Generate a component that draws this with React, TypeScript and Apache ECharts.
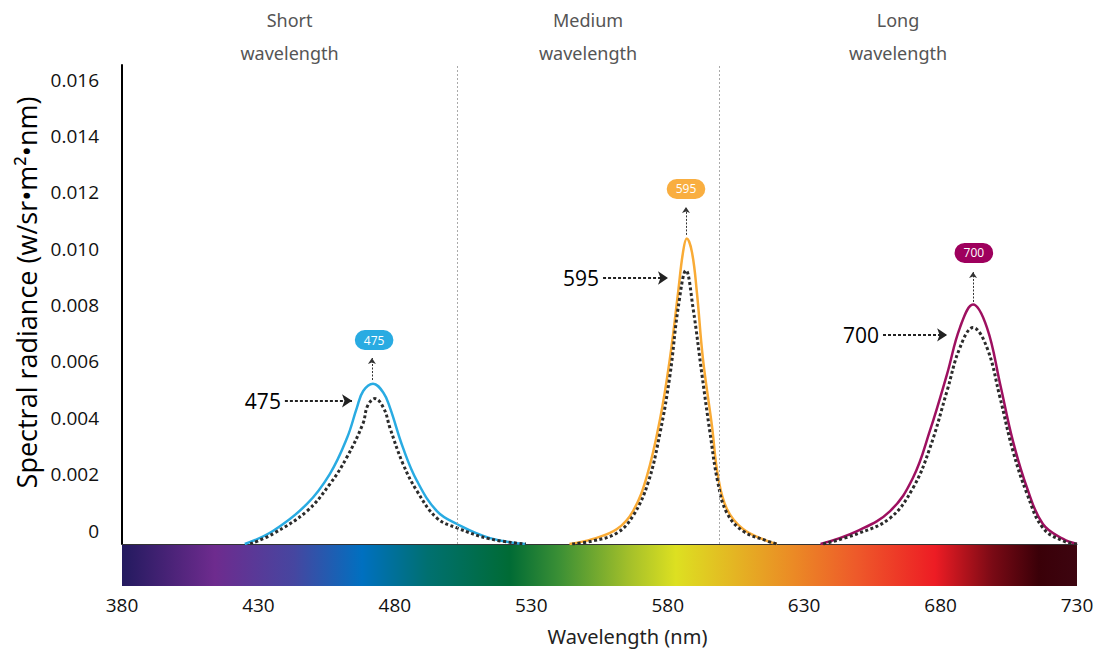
import React, { useEffect, useRef } from "react";
import * as echarts from "echarts";

// ---- data ----
const bandNames = ["Short\nwavelength", "Medium\nwavelength", "Long\nwavelength"];
const bandEdges = [380, 502.8, 598.8, 730];
const peakLabels = ["475", "595", "700"];
const lineColors = ["#29abe2", "#f9ab36", "#9e1060"];
const bubbleColors = ["#29abe2", "#f9ae40", "#9e005d"];

const shortSolid = [
  [425, 0], [435.3, 0.00046], [447.8, 0.00142], [456.2, 0.00249], [462.5, 0.00377],
  [466.1, 0.00484], [468.4, 0.00543], [472, 0.00569], [475.8, 0.00537], [478.2, 0.00484],
  [483, 0.00341], [488.1, 0.00224], [495.4, 0.00117], [502.8, 0.00071], [514.9, 0.00021], [528, 0],
];
const shortRef = [
  [427, 0], [435.3, 0.00036], [447.8, 0.00117], [456.2, 0.00213], [462.3, 0.00306],
  [468.3, 0.00427], [470, 0.0049], [472.7, 0.00516], [476, 0.0048], [478.2, 0.00412],
  [483, 0.00284], [488.1, 0.00188], [495.4, 0.00092], [502.8, 0.00057], [514.9, 0.00018], [528, 0],
];
const mediumSolid = [
  [544, 0], [552.6, 0.00018], [561.4, 0.00053], [567.3, 0.00117], [572.4, 0.00242],
  [577.2, 0.00444], [580.8, 0.00658], [583.8, 0.00892], [585.6, 0.01035], [587, 0.01084],
  [588.9, 0.01035], [590.7, 0.00892], [592.9, 0.00658], [596.2, 0.0042], [598.4, 0.00242],
  [601.7, 0.00124], [607.6, 0.00053], [616.4, 0.00011], [620, 0],
];
const mediumRef = [
  [545, 0], [552.6, 0.00011], [561.4, 0.00039], [567.3, 0.001], [572.8, 0.00217],
  [577.2, 0.00395], [580.8, 0.00597], [583.8, 0.00836], [586.7, 0.00971], [589.3, 0.00836],
  [592.6, 0.00597], [595.5, 0.00395], [598.4, 0.00217], [601.7, 0.0011], [607.6, 0.00046],
  [616.4, 0.00011], [620, 0],
];
const longSolid = [
  [636, 0], [649.4, 0.00046], [661.5, 0.00117], [669.9, 0.00235], [676.1, 0.00402],
  [682.4, 0.00604], [687.1, 0.00768], [691.9, 0.0085], [697, 0.00768], [701.8, 0.00569],
  [706.5, 0.00366], [711.7, 0.00199], [717.5, 0.00071], [724.9, 0.00018], [730, 0],
];
const longRef = [
  [637, 0], [649.4, 0.00036], [661.5, 0.00092], [669.9, 0.00199], [676.1, 0.00341],
  [682.4, 0.00544], [687.1, 0.00697], [691.9, 0.00768], [697, 0.00697], [701.8, 0.00519],
  [706.5, 0.00331], [711.7, 0.00178], [717.5, 0.00057], [724.9, 0.00011], [730, 0],
];

// annotation arrows (data coordinates): [fromNm, toNm, value]
const sideArrows = [
  [439.7, 464.3, 0.00508],
  [556.3, 580.1, 0.00944],
  [658.9, 682.4, 0.00742],
];
// upward arrows: [nm, fromValue, toValue]
const upArrows = [
  [471.6, 0.00582, 0.0066],
  [586.7, 0.01097, 0.01196],
  [691.9, 0.00859, 0.00965],
];
// bubble positions: [nm, value]
const bubbles = [
  [472.4, 0.00724],
  [586.7, 0.0126],
  [692.2, 0.01033],
];

// visible spectrum colour bar: [nm, colour]
const spectrumStops: [number, string][] = [
  [380, "#231a5f"], [414, "#6e2b8e"], [443, "#4646a0"], [468, "#0070c0"],
  [492, "#007070"], [522, "#006b35"], [540, "#3a8f35"], [566, "#a4c02a"],
  [583, "#dde021"], [626, "#eb8a25"], [649, "#ee5a2a"], [678, "#ed1c24"],
  [699, "#7a0a15"], [716, "#3a0008"], [730, "#3d0510"],
];

const xMin = 380;
const xMax = 730;
const xStep = 50;
const yMax = 0.017;
const yStep = 0.002;

export default function App() {
  const ref = useRef<HTMLDivElement>(null);

  useEffect(() => {
    if (!ref.current) return;
    const chart = echarts.init(ref.current, null, { renderer: "svg" });

    const solids = [shortSolid, mediumSolid, longSolid];
    const refs = [shortRef, mediumRef, longRef];
    const names = ["Short", "Medium", "Long"];
    const series: any[] = [];

    solids.forEach((d, i) => {
      const [a, b, v] = sideArrows[i];
      const [bx, by] = bubbles[i];
      series.push({
        name: names[i],
        type: "line",
        data: d,
        smooth: 0.4,
        symbol: "none",
        z: 2,
        lineStyle: { color: lineColors[i], width: 2.5 },
        markLine: {
          silent: true,
          symbol: ["none", "arrow"],
          symbolSize: 10,
          lineStyle: { color: "#222", width: 1.8, type: [3, 2] },
          label: {
            show: true,
            position: "start",
            formatter: peakLabels[i],
            fontSize: 21,
            color: "#000",
            fontFamily: "Open Sans",
            distance: 4,
          },
          data: [[{ coord: [a, v] }, { coord: [b, v] }]],
        },
        markPoint: {
          silent: true,
          symbol: "circle",
          symbolSize: 1,
          itemStyle: { color: "rgba(0,0,0,0)" },
          label: {
            show: true,
            position: "inside",
            formatter: peakLabels[i],
            color: "#fff",
            fontSize: 12,
            lineHeight: 14,
            fontFamily: "Open Sans",
            backgroundColor: bubbleColors[i],
            borderRadius: 10,
            padding: [3, 9, 3, 9],
          },
          data: [{ coord: [bx, by] }],
        },
      });
    });

    refs.forEach((d, i) => {
      const [ux, u0, u1] = upArrows[i];
      series.push({
        name: names[i] + " reference",
        type: "line",
        data: d,
        smooth: 0.4,
        symbol: "none",
        z: 3,
        lineStyle: { color: "#2b2b2b", width: 3, type: [3, 2.5] },
        markLine: {
          silent: true,
          symbol: ["none", "arrow"],
          symbolSize: 6,
          lineStyle: { color: "#333", width: 1, type: [2, 1.5] },
          label: { show: false },
          data: [[{ coord: [ux, u0] }, { coord: [ux, u1] }]],
        },
      });
    });

    // band dividers + headers
    series.push({
      name: "bands",
      type: "line",
      data: [],
      markLine: {
        silent: true,
        symbol: ["none", "none"],
        lineStyle: { color: "#aaa", width: 1, type: [2, 2] },
        label: { show: false },
        data: [{ xAxis: bandEdges[1] }, { xAxis: bandEdges[2] }],
      },
      markArea: {
        silent: true,
        itemStyle: { color: "rgba(0,0,0,0)" },
        label: {
          show: true,
          position: "top",
          distance: -4,
          color: "#555",
          fontSize: 18,
          lineHeight: 33,
          fontFamily: "Noto Sans",
          align: "center",
        },
        data: bandNames.map((n, i) => [
          { name: n, xAxis: bandEdges[i] },
          { xAxis: bandEdges[i + 1] },
        ]),
      },
    });

    const gridLeft = 122;
    const gridRight = 30;
    const gridTop = 65;
    const gridBottom = 107;
    const W = 1107;
    const H = 651;

    chart.setOption({
      animation: false,
      backgroundColor: "#fff",
      grid: { left: gridLeft, right: gridRight, top: gridTop, bottom: gridBottom },
      xAxis: {
        type: "value",
        min: xMin,
        max: xMax,
        interval: xStep,
        axisLine: { show: true, lineStyle: { color: "#333", width: 1 } },
        axisTick: { show: false },
        splitLine: { show: false },
        axisLabel: { margin: 51, fontSize: 19, color: "#111", fontFamily: "Open Sans" },
        name: "Wavelength (nm)",
        nameLocation: "middle",
        nameGap: 82,
        nameTextStyle: {
          fontSize: 20,
          color: "#222",
          fontFamily: "Noto Sans",
          padding: [0, 0, 0, 56],
        },
      },
      yAxis: {
        type: "value",
        min: 0,
        max: yMax,
        interval: yStep,
        axisLine: { show: true, lineStyle: { color: "#000", width: 2 } },
        axisTick: { show: false },
        splitLine: { show: false },
        axisLabel: {
          showMaxLabel: false,
          margin: 23,
          fontSize: 19,
          color: "#111",
          fontFamily: "Open Sans",
          verticalAlign: "bottom",
          padding: [0, 0, 4, 0],
          formatter: (v: number) => (v === 0 ? "0" : v.toFixed(3)),
        },
        name: "Spectral radiance (w/sr•m²•nm)",
        nameLocation: "middle",
        nameRotate: 90,
        nameGap: 80,
        nameTextStyle: {
          fontSize: 27,
          color: "#000",
          fontFamily: "Open Sans",
          padding: [0, 0, 0, 24],
        },
      },
      graphic: [
        {
          type: "rect",
          z: 0,
          shape: {
            x: gridLeft,
            y: H - gridBottom,
            width: W - gridLeft - gridRight,
            height: 42,
          },
          style: {
            fill: new echarts.graphic.LinearGradient(
              0, 0, 1, 0,
              spectrumStops.map(([nm, c]) => ({
                offset: (nm - xMin) / (xMax - xMin),
                color: c,
              }))
            ),
          },
        },
      ],
      series,
    });

    return () => chart.dispose();
  }, []);

  return (
    <div
      ref={ref}
      style={{ position: "fixed", left: 0, top: 0, width: 1107, height: 651, background: "#fff" }}
    />
  );
}
